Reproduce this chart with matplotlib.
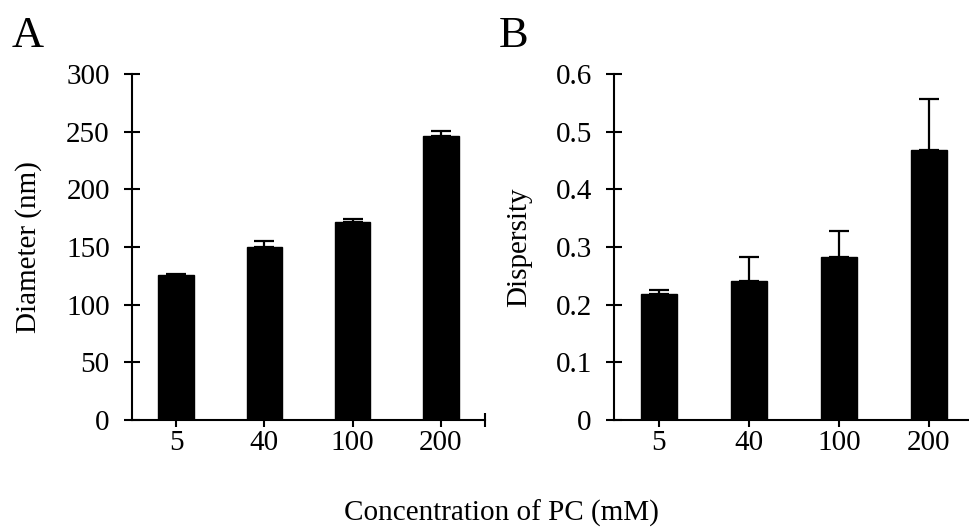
import numpy as np
import matplotlib.pyplot as plt

plt.rcParams['font.family'] = ['Liberation Serif', 'DejaVu Serif']

conc = ['5', '40', '100', '200']
diameter = [125.4, 149.7, 172.0, 246.2]
diameter_err = [1.2, 5.8, 2.3, 4.4]
dispersity = [0.219, 0.241, 0.283, 0.469]
dispersity_err = [0.006, 0.041, 0.044, 0.088]

fig = plt.figure(figsize=(9.7, 5.29), dpi=100)
W, H = 970., 529.
FS = 21

def panel(left, right, vals, errs, ymax, ystep, ylabel, fmt, letter, letter_x, ylabel_x):
    ax = fig.add_axes([left / W, 1 - 420 / H, (right - left) / W, (420 - 74) / H])
    x = np.arange(len(vals))
    ax.bar(x, vals, width=0.4, color='black', edgecolor='black', zorder=2)
    # upper error only
    ax.errorbar(x, vals, yerr=[np.zeros(len(errs)), errs], fmt='none',
                ecolor='black', elinewidth=1.6, capsize=7, capthick=1.6, zorder=1)
    ax.set_xlim(-0.5, len(vals) - 0.5)
    ax.set_ylim(0, ymax)
    yt = np.arange(0, ymax + ystep / 2, ystep)
    ax.set_yticks(yt)
    ax.set_yticklabels([fmt(v) for v in yt])
    ax.set_xticks(x)
    ax.set_xticklabels(conc)
    ax.set_xticks([len(vals) - 0.5], minor=True)
    for s in ['top', 'right']:
        ax.spines[s].set_visible(False)
    for s in ['left', 'bottom']:
        ax.spines[s].set_linewidth(1.5)
    ax.tick_params(axis='y', direction='inout', length=12, width=1.5, labelsize=FS, pad=10)
    ax.tick_params(axis='x', which='major', direction='out', length=5, width=1.5, labelsize=FS, pad=2)
    ax.tick_params(axis='x', which='minor', direction='inout', length=10, width=1.5)
    ax.set_ylabel(ylabel, fontsize=FS)
    ax.yaxis.set_label_coords((ylabel_x - left) / (right - left), 0.5)
    fig.text(letter_x / W, 1 - 47 / H, letter, fontsize=32, va='baseline')
    return ax

panel(132, 485, diameter, diameter_err, 300, 50, 'Diameter (nm)',
      lambda v: '%d' % v, 'A', 12, 42)
panel(614, 974, dispersity, dispersity_err, 0.6, 0.1, 'Dispersity',
      lambda v: '0' if v == 0 else '%.1f' % v, 'B', 499, 532)

fig.text(501 / W, 1 - 521 / H, 'Concentration of PC (mM)', fontsize=FS,
         ha='center', va='baseline')

fig.savefig('out.png', dpi=100)
